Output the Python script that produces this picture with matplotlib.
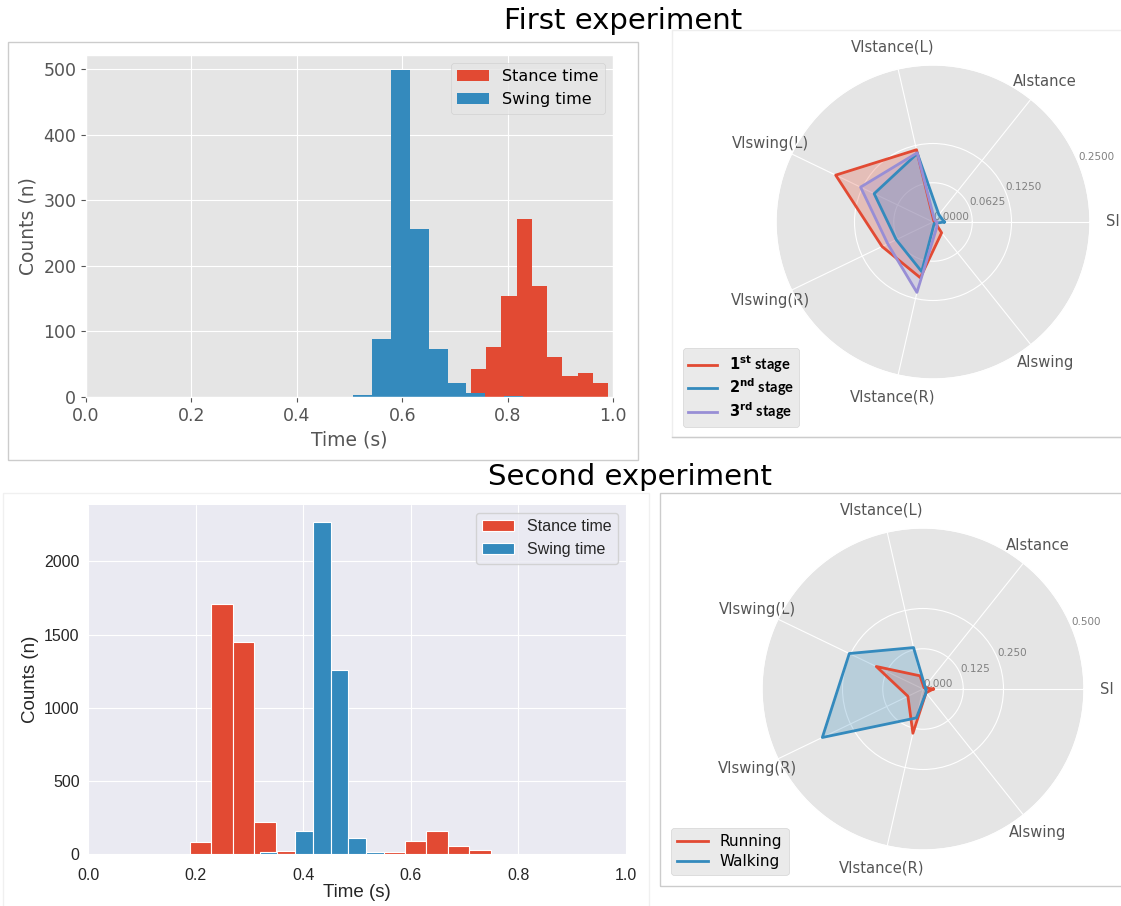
import matplotlib
matplotlib.use('Agg')
import matplotlib.pyplot as plt
from matplotlib.patches import Rectangle
import numpy as np

# first experiment: histogram bins
stance1_edges = [0.730, 0.759, 0.788, 0.817, 0.846, 0.875, 0.904, 0.933, 0.962, 0.991]
stance1_counts = [43, 77, 154, 271, 170, 61, 32, 36, 22]
swing1_edges = [0.507, 0.543, 0.579, 0.614, 0.650, 0.686, 0.722, 0.758, 0.794, 0.830]
swing1_counts = [3, 89, 499, 256, 73, 21, 6, 0, 1]

# second experiment
stance2_edges = [0.189, 0.229, 0.269, 0.309, 0.349, 0.389, 0.429, 0.469,
                 0.509, 0.549, 0.589, 0.629, 0.669, 0.709, 0.749]
stance2_counts = [82, 1708, 1446, 221, 18, 0, 0, 0, 0, 11, 91, 157, 52, 25]
swing2_edges = [0.319, 0.352, 0.385, 0.418, 0.451, 0.484, 0.517, 0.550]
swing2_counts = [15, 0, 155, 2272, 1260, 109, 11]

# radar charts
categories = ['SI', 'AIstance', 'VIstance(L)', 'VIswing(L)', 'VIswing(R)', 'VIstance(R)', 'AIswing']
stage1 = [0.003, 0.002, 0.118, 0.172, 0.090, 0.091, 0.022]
stage2 = [0.018, 0.015, 0.112, 0.104, 0.065, 0.081, 0.003]
stage3 = [0.006, 0.004, 0.113, 0.128, 0.080, 0.115, 0.010]
running = [0.032, 0.005, 0.042, 0.161, 0.052, 0.141, 0.015]
walking = [0.009, 0.010, 0.132, 0.254, 0.347, 0.092, 0.015]

RED, BLUE, PURPLE = '#E24A33', '#348ABD', '#988ED5'
W, H = 1121, 906


def box(left, top, right, bottom):
    # figure-pixel box (top origin) -> fig fraction rect
    return [left / W, 1 - bottom / H, (right - left) / W, (bottom - top) / H]


def frame(fig, left, top, right, bottom, color):
    fig.patches.append(Rectangle((left / W, 1 - bottom / H), (right - left) / W,
                                 (bottom - top) / H, transform=fig.transFigure,
                                 fill=False, edgecolor=color, linewidth=1.0))


def radar(ax, series, names, colors, rmax, fmt, legend_kw):
    n = len(categories)
    angles = np.arange(n) * 2 * np.pi / n
    closed = np.append(angles, angles[0])
    for vals, name, c in zip(series, names, colors):
        v = np.append(vals, vals[0])
        ax.plot(closed, v, color=c, lw=2, label=name)
        ax.fill(closed, v, color=c, alpha=0.25)
    ax.set_xticks(angles)
    ax.set_xticklabels(categories, fontsize=10.6, color='#555555')
    ticks = [0, rmax / 4, rmax / 2, rmax]
    ax.set_yticks(ticks)
    ax.set_yticklabels([fmt % t for t in ticks], fontsize=7.5, color='#808080')
    ax.set_ylim(0, rmax)
    ax.set_rlabel_position(22.5)
    ax.tick_params(axis='x', pad=6)
    ax.legend(loc='lower left', bbox_transform=ax.figure.transFigure,
              borderaxespad=0, **legend_kw)


fig = plt.figure(figsize=(W / 100, H / 100), dpi=100)

with plt.style.context('ggplot'):
    ax1 = fig.add_axes(box(86, 55, 613, 397))
    ax1.hist(stance1_edges[:-1], bins=stance1_edges, weights=stance1_counts,
             color=RED, label='Stance time')
    ax1.hist(swing1_edges[:-1], bins=swing1_edges, weights=swing1_counts,
             color=BLUE, label='Swing time')
    ax1.set_xlim(0, 1)
    ax1.set_ylim(0, 522)
    ax1.set_xlabel('Time (s)', fontsize=13.5)
    ax1.set_ylabel('Counts (n)', fontsize=13.5)
    ax1.tick_params(labelsize=12.5)
    ax1.legend(loc='upper right', fontsize=11.5)

    ax2 = fig.add_axes(box(776, 65, 1090, 379), projection='polar')
    radar(ax2, [stage1, stage2, stage3],
          [r'$\mathbf{1^{st}}$ stage', r'$\mathbf{2^{nd}}$ stage', r'$\mathbf{3^{rd}}$ stage'],
          [RED, BLUE, PURPLE], 0.25, '%.4f',
          dict(bbox_to_anchor=(683 / W, 1 - 427 / H),
               prop={'weight': 'bold', 'size': 10.5, 'family': 'Lato'},
               handlelength=2.0, labelspacing=0.12, borderpad=0.35))

    ax4 = fig.add_axes(box(762, 528, 1084, 850), projection='polar')
    radar(ax4, [running, walking], ['Running', 'Walking'], [RED, BLUE], 0.5, '%.3f',
          dict(bbox_to_anchor=(671 / W, 1 - 875 / H), fontsize=11,
               handlelength=2.0, labelspacing=0.3, borderpad=0.4))

with plt.style.context('seaborn-v0_8-darkgrid'):
    ax3 = fig.add_axes(box(88, 505, 626, 854))
    ax3.hist(stance2_edges[:-1], bins=stance2_edges, weights=stance2_counts,
             color=RED, edgecolor='white', linewidth=0.8, label='Stance time')
    ax3.hist(swing2_edges[:-1], bins=swing2_edges, weights=swing2_counts,
             color=BLUE, edgecolor='white', linewidth=0.8, label='Swing time')
    ax3.set_xlim(0, 1)
    ax3.set_ylim(0, 2385)
    ax3.set_yticks([0, 500, 1000, 1500, 2000])
    for t in ax3.get_xticklabels() + ax3.get_yticklabels():
        t.set_family('Liberation Sans')
    ax3.tick_params(labelsize=11.5)
    ax3.tick_params(axis='x', pad=10)
    ax3.tick_params(axis='y', pad=6)
    ax3.set_xlabel('Time (s)', fontsize=13.5, family='Liberation Sans', labelpad=1)
    ax3.set_ylabel('Counts (n)', fontsize=13.5, family='Liberation Sans')
    ax3.legend(loc='upper right', frameon=True, prop={'family': 'Liberation Sans', 'size': 11.5})

# panel frames from the original composite
frame(fig, 8, 42, 638, 460, '#cccccc')
frame(fig, 672, 30, 1125, 437, '#eeeeee')
fig.add_artist(plt.Line2D([672 / W, 1], [1 - 437 / H] * 2, transform=fig.transFigure,
                          color='#cccccc', lw=1))
frame(fig, 3, 493, 649, 910, '#f0f0f0')
frame(fig, 660, 493, 1125, 886, '#cccccc')

fig.text(623 / W, 1 - 21 / H, 'First experiment', ha='center', va='center', fontsize=21)
fig.text(630 / W, 1 - 477 / H, 'Second experiment', ha='center', va='center', fontsize=21)

fig.savefig('out.png', dpi=100)
